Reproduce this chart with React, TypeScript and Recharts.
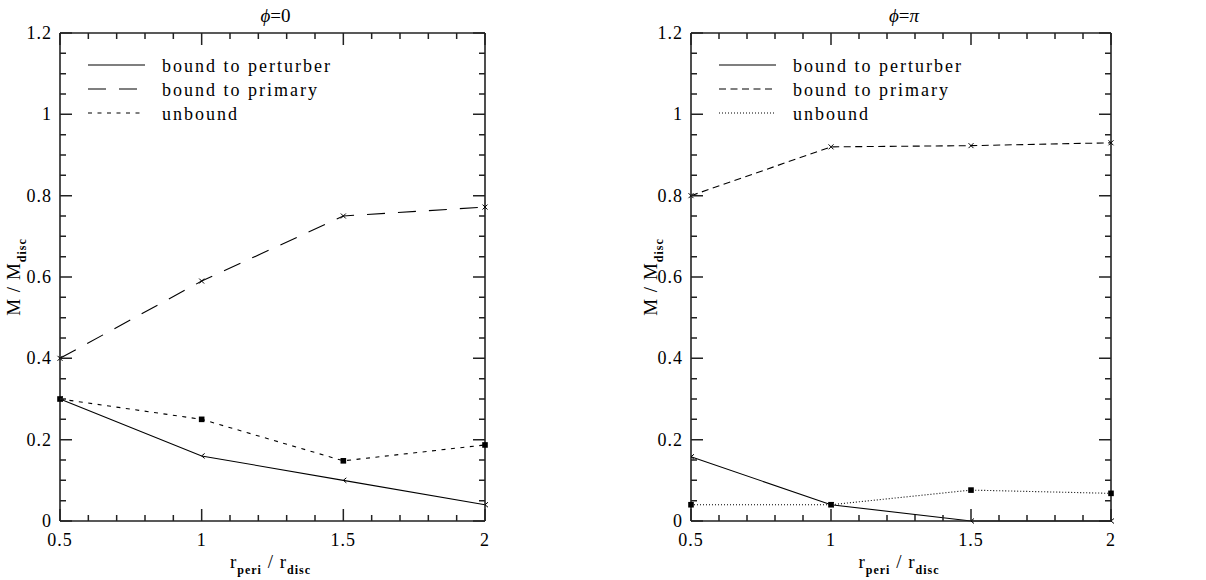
import React from 'react';
import { LineChart, Line, XAxis, YAxis, Legend } from 'recharts';

const rPeri = [0.5, 1, 1.5, 2];

// phi = 0
const perturberPhi0 = [0.3, 0.16, 0.1, 0.04];
const primaryPhi0 = [0.4, 0.59, 0.75, 0.772];
const unboundPhi0 = [0.3, 0.25, 0.148, 0.187];

// phi = pi
const perturberPhiPi = [0.158, 0.04, 0, 0];
const primaryPhiPi = [0.8, 0.92, 0.923, 0.93];
const unboundPhiPi = [0.04, 0.04, 0.076, 0.068];

const xMajor = [0.5, 1, 1.5, 2];
const xMinor = [0.6, 0.7, 0.8, 0.9, 1.1, 1.2, 1.3, 1.4, 1.6, 1.7, 1.8, 1.9];
const yMajor = [0, 0.2, 0.4, 0.6, 0.8, 1, 1.2];
const yMinor = [
  0.05, 0.1, 0.15, 0.25, 0.3, 0.35, 0.45, 0.5, 0.55, 0.65, 0.7, 0.75, 0.85, 0.9, 0.95, 1.05, 1.1, 1.15,
];

const xTicks = [...xMajor, ...xMinor].sort((a, b) => a - b);
const yTicks = [...yMajor, ...yMinor].sort((a, b) => a - b);

const FONT = "'Liberation Serif', 'DejaVu Serif', serif";
const INK = '#000';
const AXIS = '#222';
const CHART_W = 603;
const CHART_H = 580;

type Marker = 'square' | 'arrow' | 'cross';
type Series = { key: string; name: string; values: number[]; dash?: string; marker: Marker };
type Margin = { top: number; right: number; bottom: number; left: number };

const renderDot = (marker: Marker, id: string) => (p: any) => {
  const { cx, cy, index } = p;
  const key = `${id}-${index}`;
  if (cx == null || cy == null) return <g key={key} />;
  if (marker === 'square') {
    return <rect key={key} x={cx - 2.8} y={cy - 2.8} width={5.6} height={5.6} fill={INK} />;
  }
  if (marker === 'arrow') {
    return (
      <path key={key} d={`M${cx + 3},${cy - 2.5} L${cx},${cy} L${cx + 3},${cy + 2.5}`} stroke={INK} strokeWidth={1} fill="none" />
    );
  }
  return (
    <path
      key={key}
      d={`M${cx - 2.5},${cy - 2.5} L${cx + 2.5},${cy + 2.5} M${cx - 2.5},${cy + 2.5} L${cx + 2.5},${cy - 2.5}`}
      stroke={INK}
      strokeWidth={1}
    />
  );
};

// inward ticks on both opposite sides of the frame; `span` is the plot size across
const makeTick = (side: 'bottom' | 'left', majors: number[], span: number) => (props: any) => {
  const x = Number(props.x);
  const y = Number(props.y);
  const v = props.payload.value;
  const major = majors.includes(v);
  const len = major ? 12 : 6;
  const path =
    side === 'bottom'
      ? `M${x},${y} v${-len} M${x},${y - span} v${len}`
      : `M${x},${y} h${len} M${x + span},${y} h${-len}`;
  let label = null;
  if (major && side === 'bottom') {
    label = (
      <text x={x} y={y + 25} textAnchor="middle" fontFamily={FONT} fontSize={18} letterSpacing={1} fill={INK} stroke="none">
        {String(v)}
      </text>
    );
  } else if (major) {
    label = (
      <text x={x - 8} y={y + 6} textAnchor="end" fontFamily={FONT} fontSize={18} letterSpacing={1} fill={INK} stroke="none">
        {String(v)}
      </text>
    );
  }
  return (
    <g>
      <path d={path} stroke={AXIS} strokeWidth={1.5} fill="none" />
      {label}
    </g>
  );
};

const legendContent = (series: Series[]) => () => (
  <svg width={320} height={80} style={{ display: 'block' }}>
    {series.map((s, i) => (
      <g key={s.key}>
        <line x1={8} x2={65} y1={15 + 24 * i} y2={15 + 24 * i} stroke={INK} strokeWidth={1.1} strokeDasharray={s.dash} />
        <text x={82} y={22 + 24 * i} fontFamily={FONT} fontSize={18} letterSpacing={2} fill={INK}>
          {s.name}
        </text>
      </g>
    ))}
  </svg>
);

type PanelProps = {
  title: React.ReactNode;
  series: Series[];
  margin: Margin;
  yLabelGap: number;
};

function Panel({ title, series, margin, yLabelGap }: PanelProps) {
  const rows = rPeri.map((r, i) => {
    const row: Record<string, number> = { r };
    series.forEach((s) => {
      row[s.key] = s.values[i];
    });
    return row;
  });
  const axisLine = { stroke: AXIS, strokeWidth: 1.6 };
  const plotW = CHART_W - margin.left - margin.right - 2;
  const plotH = CHART_H - margin.top - margin.bottom - 2;

  return (
    <LineChart width={CHART_W} height={CHART_H} data={rows} margin={margin}>
      <XAxis
        xAxisId="b"
        dataKey="r"
        type="number"
        domain={[0.5, 2]}
        ticks={xTicks}
        interval={0}
        height={1}
        tickSize={0}
        tickMargin={0}
        tickLine={false}
        axisLine={axisLine}
        tick={makeTick('bottom', xMajor, plotH)}
        label={(p: any) => {
          const vb = p.viewBox;
          const cx = vb.x + vb.width / 2 - 2;
          const by = vb.y + 47;
          return (
            <text x={cx} y={by} textAnchor="middle" fontFamily={FONT} fontSize={19} letterSpacing={1} fill={INK}>
              r
              <tspan fontSize={12} fontWeight="bold" dy={6}>peri</tspan>
              <tspan dy={-6}>{'  /  r'}</tspan>
              <tspan fontSize={12} fontWeight="bold" dy={6}>disc</tspan>
            </text>
          );
        }}
      />
      <XAxis
        xAxisId="t"
        orientation="top"
        type="number"
        domain={[0.5, 2]}
        ticks={xMajor}
        height={1}
        tickLine={false}
        tick={false}
        axisLine={axisLine}
        label={(p: any) => {
          const vb = p.viewBox;
          return (
            <text x={vb.x + vb.width / 2 + 3} y={vb.y - 10} textAnchor="middle" fontFamily={FONT} fontSize={19} fill={INK}>
              {title}
            </text>
          );
        }}
      />
      <YAxis
        yAxisId="l"
        type="number"
        domain={[0, 1.2]}
        ticks={yTicks}
        interval={0}
        width={1}
        tickSize={0}
        tickMargin={0}
        tickLine={false}
        axisLine={axisLine}
        tick={makeTick('left', yMajor, plotW)}
        label={(p: any) => {
          const vb = p.viewBox;
          const bx = vb.x - yLabelGap;
          const cy = vb.y + vb.height / 2;
          return (
            <text
              x={bx}
              y={cy}
              transform={`rotate(-90, ${bx}, ${cy})`}
              textAnchor="middle"
              fontFamily={FONT}
              fontSize={19}
              letterSpacing={1}
              fill={INK}
            >
              {'M  /  M'}
              <tspan fontSize={12} fontWeight="bold" dy={6}>disc</tspan>
            </text>
          );
        }}
      />
      <YAxis
        yAxisId="r"
        orientation="right"
        type="number"
        domain={[0, 1.2]}
        ticks={yMajor}
        width={1}
        tickLine={false}
        tick={false}
        axisLine={axisLine}
      />
      <Legend
        layout="vertical"
        align="center"
        verticalAlign="middle"
        content={legendContent(series)}
        wrapperStyle={{ left: margin.left + 21, top: 50, width: 320, height: 80 }}
      />
      {series.map((s) => (
        <Line
          key={s.key}
          xAxisId="b"
          yAxisId="l"
          type="linear"
          dataKey={s.key}
          name={s.name}
          stroke={INK}
          strokeWidth={1.1}
          strokeDasharray={s.dash}
          dot={renderDot(s.marker, s.key)}
          activeDot={false}
          isAnimationActive={false}
        />
      ))}
    </LineChart>
  );
}

const seriesPhi0: Series[] = [
  { key: 'perturber', name: 'bound to perturber', values: perturberPhi0, marker: 'arrow' },
  { key: 'primary', name: 'bound to primary', values: primaryPhi0, dash: '18 13', marker: 'cross' },
  { key: 'unbound', name: 'unbound', values: unboundPhi0, dash: '4 5.5', marker: 'square' },
];

const seriesPhiPi: Series[] = [
  { key: 'perturber', name: 'bound to perturber', values: perturberPhiPi, marker: 'arrow' },
  { key: 'primary', name: 'bound to primary', values: primaryPhiPi, dash: '7 4.5', marker: 'cross' },
  { key: 'unbound', name: 'unbound', values: unboundPhiPi, dash: '1 2', marker: 'square' },
];

export default function App() {
  return (
    <div style={{ position: 'absolute', left: 0, top: 0, width: 1206, height: 580, display: 'flex', background: '#fff' }}>
      <Panel
        title={<><tspan fontStyle="italic">ϕ</tspan>=0</>}
        series={seriesPhi0}
        margin={{ top: 32, right: 117, bottom: 58, left: 59 }}
        yLabelGap={39}
      />
      <Panel
        title={<><tspan fontStyle="italic">ϕ</tspan>=<tspan fontStyle="italic">π</tspan></>}
        series={seriesPhiPi}
        margin={{ top: 32, right: 94, bottom: 58, left: 87 }}
        yLabelGap={33}
      />
    </div>
  );
}
